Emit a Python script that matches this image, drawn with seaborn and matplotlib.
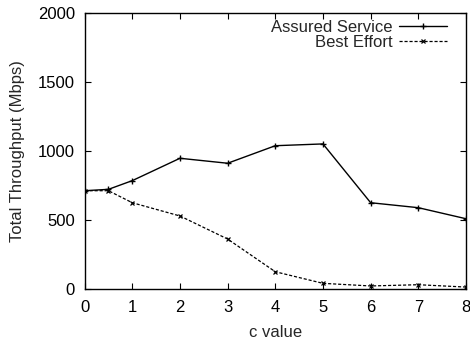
import matplotlib
matplotlib.use("Agg")
import matplotlib.pyplot as plt
import seaborn as sns
import pandas as pd

c_values = [0, 0.5, 1, 2, 3, 4, 5, 6, 7, 8]
assured_service = [712, 722, 785, 947, 911, 1038, 1051, 625, 589, 509]
best_effort = [712, 712, 625, 529, 362, 125, 41, 22, 31, 14]
x_ticks = [0, 1, 2, 3, 4, 5, 6, 7, 8]
y_ticks = [0, 500, 1000, 1500, 2000]

sns.set_theme(style="ticks")
plt.rcParams["font.family"] = ["Liberation Sans", "DejaVu Sans"]

fig = plt.figure(figsize=(4.7, 3.4), dpi=100)
ax = fig.add_axes([0.18, 0.15, 0.8115, 0.812])

df = pd.DataFrame({"c": c_values, "as": assured_service, "be": best_effort})

sns.lineplot(data=df, x="c", y="as", ax=ax, color="black", linewidth=1.0,
             marker="+", markersize=4.5, markeredgewidth=1.0,
             markeredgecolor="black", label="Assured Service")
sns.lineplot(data=df, x="c", y="be", ax=ax, color="black", linewidth=0.9,
             linestyle=(0, (2.5, 1.5)), marker="x", markersize=3.5,
             markeredgewidth=0.9, markeredgecolor="black",
             label="Best Effort")

ax.set_xlim(0, 8)
ax.set_ylim(0, 2000)
ax.set_xticks(x_ticks)
ax.set_yticks(y_ticks)
ax.set_xlabel("c value", fontsize=12, labelpad=7)
ax.set_ylabel("Total Throughput (Mbps)", fontsize=12, labelpad=9)
ax.tick_params(direction="in", top=True, right=True, length=4, width=0.8,
               labelsize=12, colors="black")
ax.tick_params(axis="x", pad=8)
ax.tick_params(axis="y", pad=7)
for s in ax.spines.values():
    s.set_visible(True)
    s.set_linewidth(1.0)
    s.set_color("black")

leg = ax.legend(loc="upper right", frameon=False, markerfirst=False,
                fontsize=12, handlelength=2.9, handletextpad=0.35,
                labelspacing=0.0, borderaxespad=0.0,
                bbox_to_anchor=(0.968, 1.0))

fig.savefig("out.png", dpi=100)
